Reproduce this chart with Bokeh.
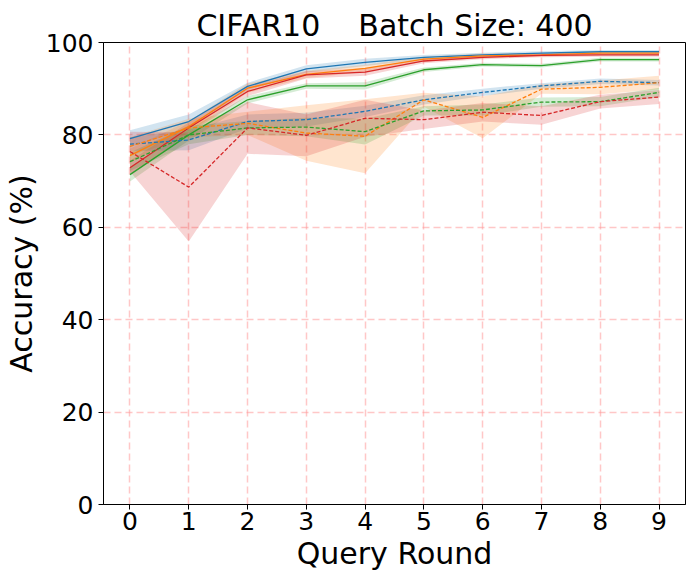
import numpy as np
from bokeh.plotting import figure
from bokeh.models import ColumnDataSource, FixedTicker, Range1d, Title
from bokeh.embed import file_html
from bokeh.resources import INLINE

rounds = [0, 1, 2, 3, 4, 5, 6, 7, 8, 9]

blue_solid = [79.2, 82.9, 90.5, 94.3, 95.7, 96.8, 97.3, 97.7, 98.0, 98.0]
orange_solid = [75.5, 81.8, 90.1, 93.1, 94.4, 96.4, 97.1, 97.3, 97.7, 97.7]
green_solid = [71.4, 80.0, 87.6, 90.6, 90.6, 94.1, 95.2, 95.0, 96.3, 96.3]
red_solid = [72.9, 81.5, 89.4, 93.0, 93.6, 96.0, 96.8, 97.2, 97.3, 97.3]

blue_dash = [78.0, 78.9, 82.9, 83.3, 85.1, 87.6, 89.2, 90.6, 91.6, 91.3]
orange_dash = [77.5, 81.5, 82.5, 80.4, 79.7, 87.6, 83.8, 89.9, 90.3, 91.3]
green_dash = [74.2, 80.0, 81.5, 81.7, 80.7, 85.2, 85.4, 87.1, 87.2, 89.2]
red_dash = [76.4, 68.7, 81.5, 79.9, 83.6, 83.3, 84.9, 84.2, 87.2, 88.2]

blue_solid_sd = [1.8, 1.5, 0.8, 0.8, 0.8, 0.5, 0.5, 0.4, 0.4, 0.4]
orange_solid_sd = [1.5, 1.2, 1.0, 0.8, 0.8, 0.5, 0.5, 0.4, 0.4, 0.4]
green_solid_sd = [1.5, 1.2, 0.8, 0.6, 0.8, 0.5, 0.4, 0.4, 0.4, 0.4]
red_solid_sd = [1.5, 1.2, 1.0, 0.8, 0.8, 0.5, 0.4, 0.4, 0.4, 0.4]

blue_dash_sd = [1.5, 2.2, 1.5, 1.5, 1.2, 1.0, 0.8, 0.6, 0.6, 0.6]
orange_dash_sd = [2.0, 2.0, 2.5, 6.0, 8.0, 1.5, 4.5, 1.0, 1.5, 1.5]
green_dash_sd = [2.0, 2.0, 1.5, 2.0, 2.8, 1.0, 1.2, 1.0, 1.0, 1.0]
red_dash_sd = [4.3, 11.8, 5.6, 4.5, 4.0, 2.0, 2.0, 2.0, 1.5, 1.5]

y_ticks = [0, 20, 40, 60, 80, 100]

BLUE, ORANGE, GREEN, RED = "#1f77b4", "#ff7f0e", "#2ca02c", "#d62728"

series = [
    (blue_solid, blue_solid_sd, BLUE, "solid"),
    (orange_solid, orange_solid_sd, ORANGE, "solid"),
    (green_solid, green_solid_sd, GREEN, "solid"),
    (red_solid, red_solid_sd, RED, "solid"),
    (blue_dash, blue_dash_sd, BLUE, "4 2"),
    (orange_dash, orange_dash_sd, ORANGE, "4 2"),
    (green_dash, green_dash_sd, GREEN, "4 2"),
    (red_dash, red_dash_sd, RED, "4 2"),
]

FONT = "DejaVu Sans"
NB = "\u00a0"

p = figure(frame_width=582, frame_height=462, output_backend="svg", toolbar_location=None,
           x_range=Range1d(-0.45, 9.45), y_range=Range1d(0, 100),
           min_border_left=95, min_border_right=3, min_border_top=0, min_border_bottom=66)

# small spacer on the outermost title slot
p.title.text = NB
p.title.text_font_size = "3px"
p.title.standoff = 0

main_title = Title(text="CIFAR10" + NB * 4 + "Batch Size: 400", text_font=FONT,
                   text_font_size="30px", text_font_style="normal", align="center",
                   text_color="#000000", standoff=0)
p.add_layout(main_title, "above")

for vals, sd, color, dash in series:
    m = np.array(vals)
    s = np.array(sd)
    src = ColumnDataSource(dict(x=rounds, y=m, lo=m - s, hi=m + s))
    p.varea(x="x", y1="lo", y2="hi", source=src, fill_color=color, fill_alpha=0.2)

for vals, sd, color, dash in series:
    src = ColumnDataSource(dict(x=rounds, y=vals))
    p.line(x="x", y="y", source=src, line_color=color, line_width=1.3, line_dash=dash)

p.xaxis.ticker = FixedTicker(ticks=rounds)
p.yaxis.ticker = FixedTicker(ticks=y_ticks)
p.xaxis.axis_label = "Query Round"
p.yaxis.axis_label = "Accuracy (%)"
for ax in (p.xaxis, p.yaxis):
    ax.axis_label_text_font = FONT
    ax.axis_label_text_font_size = "30px"
    ax.axis_label_text_font_style = "normal"
    ax.axis_label_text_color = "#000000"
    ax.major_label_text_font = FONT
    ax.major_label_text_font_size = "25px"
    ax.major_label_text_color = "#000000"
    ax.minor_tick_line_color = None
    ax.major_tick_out = 5
    ax.major_tick_in = 0
    ax.major_tick_line_color = "#000000"
    ax.axis_line_color = "#000000"
    ax.major_label_standoff = 5
p.xaxis.major_label_standoff = 2
p.yaxis.axis_label_standoff = 4
p.xaxis.axis_label_standoff = 3

for g in (p.xgrid, p.ygrid):
    g.grid_line_color = "#ff9999"
    g.grid_line_alpha = 0.55
    g.grid_line_dash = "7 4"
    g.grid_line_width = 1.5

p.outline_line_color = "#000000"
p.outline_line_width = 1
p.background_fill_color = "white"
p.border_fill_color = "white"

open("out.html", "w").write(file_html(p, INLINE))
